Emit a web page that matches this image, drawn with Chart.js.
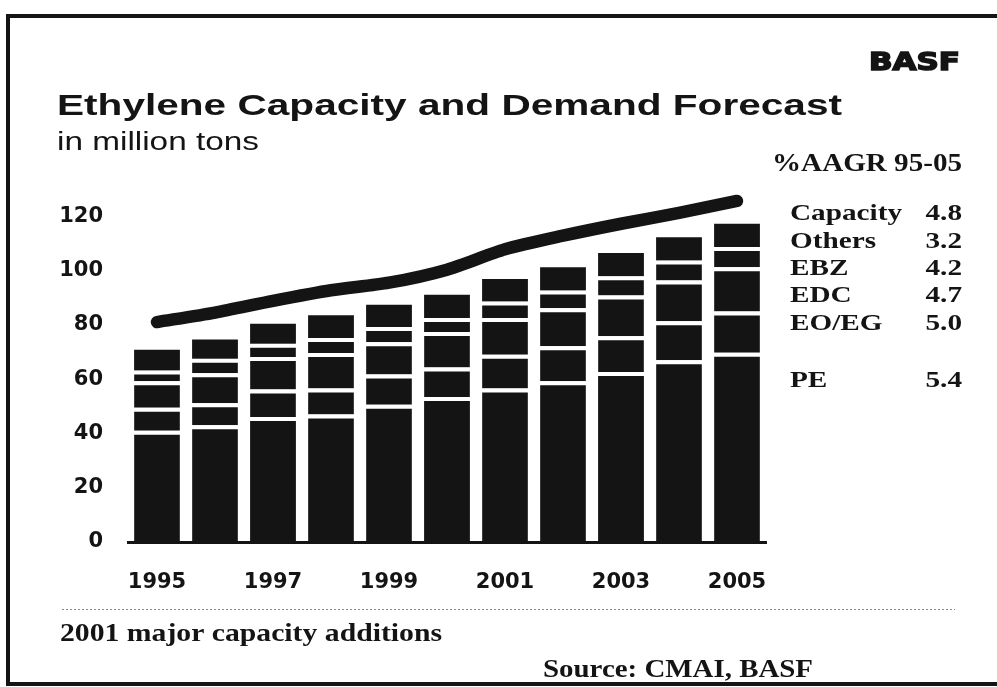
<!DOCTYPE html>
<html><head><meta charset="utf-8">
<script src="https://cdn.jsdelivr.net/npm/chart.js@4.4.1/dist/chart.umd.min.js"></script>
<style>html,body{margin:0;padding:0;background:#fff;} canvas{display:block;}</style>
</head><body>
<canvas id="c" width="997" height="687"></canvas>
<script>
// ---- data (million tons) ----
const years = ['1995','1996','1997','1998','1999','2000','2001','2002','2003','2004','2005'];
const pe     = [41, 43, 46, 47, 50.5, 53.4, 56.5, 59.2, 62.6, 66.9, 69.7];
const eoeg   = [8.4, 8.1, 10.2, 9.5, 11.2, 10.9, 12.5, 12.9, 13.2, 14.4, 15.2];
const edc    = [9.8, 11, 11.9, 13.1, 11.9, 13, 13.5, 14, 15, 15, 16.3];
const ebz    = [4, 5.4, 4.9, 5.5, 5.6, 5.2, 6.1, 6.5, 7.1, 7.4, 7.4];
const others = [7.6, 7.1, 7.4, 8.4, 8.2, 8.6, 8.3, 8.6, 8.5, 8.5, 8.6];
const capacity = [81, 84.5, 88.8, 92.7, 95.5, 100.3, 107.8, 112.8, 117.2, 121.2, 125.6];
const yTicks = [0, 20, 40, 60, 80, 100, 120];
const legendNames = ['Capacity', 'Others', 'EBZ', 'EDC', 'EO/EG', 'PE'];
const legendAagr  = ['4.8', '3.2', '4.2', '4.7', '5.0', '5.4'];

const INK = '#141414';
const TICK_FONT = {family: 'DejaVu Sans', weight: 'bold', size: 21};

function barSet(label, data, gap) {
  return {
    type: 'bar', label, data, order: 1,
    backgroundColor: INK, borderColor: '#ffffff',
    borderWidth: gap ? {top: 4, right: 0, bottom: 0, left: 0} : 0,
    borderSkipped: false,
    barPercentage: 0.79, categoryPercentage: 1.0
  };
}

function fitText(ctx, text, x, y, font, width) {
  ctx.font = font;
  const w = ctx.measureText(text).width;
  ctx.save();
  ctx.translate(x, y);
  ctx.scale(width / w, 1);
  ctx.fillText(text, 0, 0);
  ctx.restore();
}
function scaledText(ctx, text, x, y, font, sx, align) {
  ctx.font = font;
  const w = ctx.measureText(text).width * sx;
  ctx.save();
  ctx.translate(align === 'right' ? x - w : x, y);
  ctx.scale(sx, 1);
  ctx.fillText(text, 0, 0);
  ctx.restore();
}

const decor = {
  id: 'decor',
  afterDraw(chart) {
    const ctx = chart.ctx;
    ctx.save();
    ctx.fillStyle = INK; ctx.strokeStyle = INK;
    ctx.textBaseline = 'alphabetic'; ctx.textAlign = 'left';
    // frame
    ctx.lineWidth = 4;
    ctx.strokeRect(8, 16, 1010, 668);
    // BASF logo text
    ctx.lineWidth = 1.6;
    ctx.font = 'bold 25px "DejaVu Sans"';
    {
      const t = 'BASF', w = ctx.measureText(t).width;
      ctx.save(); ctx.translate(869, 70); ctx.scale(91 / w, 1);
      ctx.fillText(t, 0, 0); ctx.strokeText(t, 0, 0); ctx.restore();
    }
    // titles
    fitText(ctx, 'Ethylene Capacity and Demand Forecast', 57, 115, 'bold 30px "Liberation Sans", Arial, sans-serif', 785);
    fitText(ctx, 'in million tons', 57, 150, '26px "Liberation Sans", Arial, sans-serif', 202);
    fitText(ctx, '%AAGR 95-05', 772, 171, 'bold 25px "Liberation Serif", "Times New Roman", serif', 190);
    // legend table
    const serif = 'bold 24px "Liberation Serif", "Times New Roman", serif';
    ctx.font = serif;
    const sx = 112 / ctx.measureText('Capacity').width;
    const rows = [220, 248, 275, 302, 330, 387];
    legendNames.forEach((n, i) => {
      scaledText(ctx, n, 790, rows[i], serif, sx, 'left');
      scaledText(ctx, legendAagr[i], 962, rows[i], serif, sx, 'right');
    });
    // dotted separator
    ctx.save();
    ctx.strokeStyle = '#8a8a8a'; ctx.lineWidth = 1; ctx.setLineDash([2, 2]);
    ctx.beginPath(); ctx.moveTo(62, 609.5); ctx.lineTo(955, 609.5); ctx.stroke();
    ctx.restore();
    // footer
    fitText(ctx, '2001 major capacity additions', 60, 641, 'bold 25px "Liberation Serif", "Times New Roman", serif', 382);
    fitText(ctx, 'Source: CMAI, BASF', 543, 677, 'bold 25px "Liberation Serif", "Times New Roman", serif', 270);
    ctx.restore();
  }
};

new Chart(document.getElementById('c'), {
  data: {
    labels: years,
    datasets: [
      barSet('PE', pe, true),
      barSet('EO/EG', eoeg, true),
      barSet('EDC', edc, true),
      barSet('EBZ', ebz, true),
      barSet('Others', others, false),
      {
        type: 'line', label: 'Capacity', data: capacity, order: 0, stack: 'cap',
        borderColor: INK, borderWidth: 12.5, pointRadius: 0, tension: 0.25,
        borderCapStyle: 'round', borderJoinStyle: 'round', fill: false, clip: false
      }
    ]
  },
  options: {
    responsive: false,
    animation: false,
    devicePixelRatio: 1,
    layout: {padding: {left: 0, right: 231, top: 189, bottom: 0}},
    plugins: {legend: {display: false}, tooltip: {enabled: false}, title: {display: false}},
    scales: {
      x: {
        stacked: true,
        grid: {display: false, drawTicks: false},
        border: {display: true, color: INK, width: 3},
        ticks: {
          font: TICK_FONT, color: INK, padding: 28, autoSkip: false, maxRotation: 0,
          callback: (v, i) => (i % 2 === 0 ? years[i] : '')
        },
        afterFit: s => { s.height = 145; }
      },
      y: {
        stacked: true, min: 0, max: 130,
        grid: {display: false, drawTicks: false},
        border: {display: false},
        ticks: {font: TICK_FONT, color: INK, padding: 25},
        afterBuildTicks: s => { s.ticks = yTicks.map(v => ({value: v})); },
        afterFit: s => { s.width = 128; }
      }
    }
  },
  plugins: [decor]
});
</script>
</body></html>
